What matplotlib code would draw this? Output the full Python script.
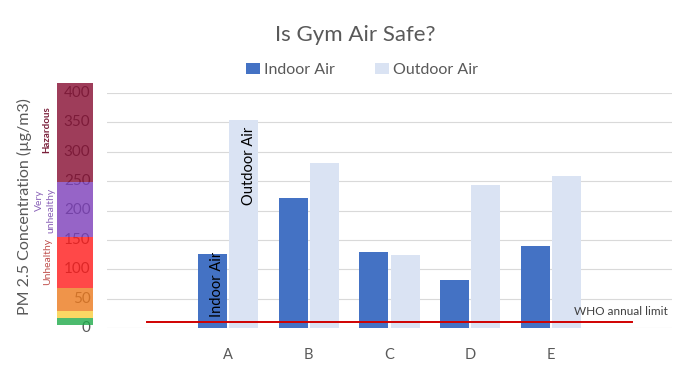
import matplotlib
matplotlib.use("Agg")
import matplotlib.pyplot as plt
import numpy as np

plt.rcParams['font.family'] = ['Lato', 'DejaVu Sans']

categories = ["", "A", "B", "C", "D", "E", ""]
indoor = [np.nan, 126, 221, 130, 82, 140, np.nan]
outdoor = [np.nan, 353, 280, 125, 244, 259, np.nan]
who_limit = [10, 10, 10, 10, 10, 10, 10]
yticks = [0, 50, 100, 150, 200, 250, 300, 350, 400]

# AQI-ish colour bands drawn beside the axis (bottom, top)
band_edges = [5.5, 18, 29.5, 69, 155, 249, 416]
band_colors = ["#1faa4a", "#f9cd3d", "#ec791d", "#ff1a1a", "#7c3dba", "#860c31"]

GRAY = "#595959"

fig = plt.figure(figsize=(6.8, 3.83), dpi=100)
W, H = 680, 383
y0, y400 = 328.3, 92.7
ax = fig.add_axes([107 / W, (H - y0) / H, 565 / W, (y0 - y400) / H])
cax = fig.add_axes([57 / W, (H - y0) / H, 36 / W, (y0 - y400) / H])

x = np.arange(len(categories))
bw, gap = 0.36, 0.025
ax.bar(x - bw / 2 - gap / 2, indoor, bw, color="#4472c4", label="Indoor Air", zorder=2)
ax.bar(x + bw / 2 + gap / 2, outdoor, bw, color="#dae3f3", label="Outdoor Air", zorder=2)
ax.plot(x, who_limit, color="#d00000", lw=1.4, zorder=3)

ax.set_xlim(-0.5, len(categories) - 0.5)
ax.set_ylim(0, 400)
ax.set_yticks(yticks)
ax.set_yticklabels([])
ax.tick_params(axis="y", length=0)
ax.set_xticks(x)
ax.set_xticklabels(categories, color=GRAY, fontsize=10.5)
ax.tick_params(axis="x", length=0, pad=14)
ax.grid(axis="y", color="#d9d9d9", lw=0.8, zorder=0)
for s in ax.spines.values():
    s.set_visible(False)

ax.text(1 - bw / 2 - gap / 2 + 0.06, 20, "Indoor Air", rotation=90, ha="center", va="bottom",
        fontsize=10.5, color="black", zorder=4)
ax.text(1 + bw / 2 + gap / 2 + 0.07, 342, "Outdoor Air", rotation=90, ha="center", va="top",
        fontsize=10.5, color="black", zorder=4)
ax.text(6.45, 28, "WHO annual limit", ha="right", va="center", fontsize=8.5, color="#404040")

# colour scale column with tick numbers under translucent bands
cax.set_xlim(0, 1)
cax.set_ylim(0, 400)
cax.axis("off")
for t in yticks:
    cax.text(0.93, t, str(t), ha="right", va="center", fontsize=11, color=GRAY, zorder=1)
for i, c in enumerate(band_colors):
    cax.bar(0.5, band_edges[i + 1] - band_edges[i], 1.0, bottom=band_edges[i],
            color=c, alpha=0.8, clip_on=False, zorder=2, linewidth=0)

cax.text(-0.28, 337, "Hazardous", rotation=90, ha="center", va="center", fontsize=7,
         fontweight="bold", color="#7a1f3a")
cax.text(-0.5, 218, "Very", rotation=90, ha="center", va="center", fontsize=7.5, color="#8a62b8")
cax.text(-0.17, 201, "unhealthy", rotation=90, ha="center", va="center", fontsize=7.5, color="#8a62b8")
cax.text(-0.26, 113, "Unhealthy", rotation=90, ha="center", va="center", fontsize=7.5, color="#c0504d")
cax.text(-0.9, 206, "PM 2.5 Concentration (µg/m3)", rotation=90, ha="center", va="center",
         fontsize=11.5, color=GRAY)

fig.text(355 / W, 1 - 35 / H, "Is Gym Air Safe?", ha="center", va="center", fontsize=16, color=GRAY)
fig.legend(loc="center", bbox_to_anchor=(362 / W, 1 - 70 / H), ncol=2, frameon=False,
           fontsize=11.5, handlelength=0.9, handleheight=0.7, handletextpad=0.25,
           columnspacing=2.5, labelcolor=GRAY)

fig.savefig("out.png", dpi=100)
